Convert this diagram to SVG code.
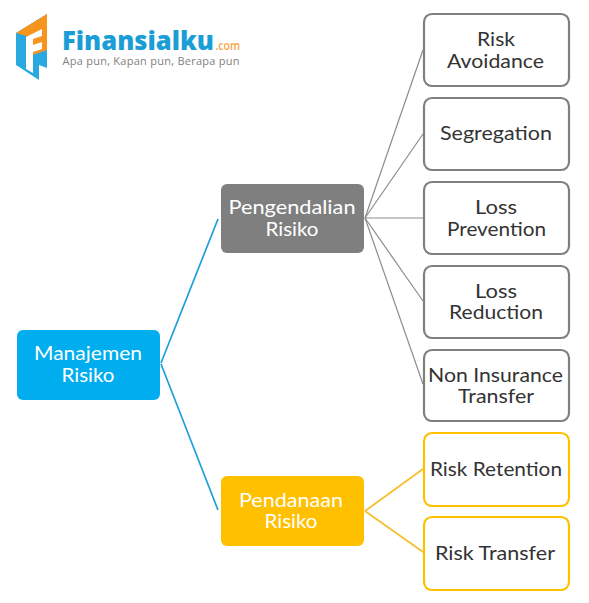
<svg xmlns="http://www.w3.org/2000/svg" width="589" height="603" viewBox="0 0 589 603">
<style>
text{font-family:"Lato","Noto Sans","Liberation Sans",sans-serif;font-size:20px;text-anchor:middle}
.dark{fill:#333}.light{fill:#fff}
.logoT{font-family:"Open Sans","Liberation Sans",sans-serif;text-anchor:start}
.outG{fill:#fff;stroke:#7f7f7f;stroke-width:2.2}
.outY{fill:#fff;stroke:#ffc000;stroke-width:2.2}
.c{fill:none}.cB{stroke:#1f9fd8;stroke-width:1.7}.cG{stroke:#8c8c8c;stroke-width:1.2}.cY{stroke:#f5c02e;stroke-width:1.8}
</style>
<g id="logo">
<polygon points="16,33 47,14 47,68 39,65 39,80 16,65" fill="#29a9e0"/>
<polygon points="16,33 47,14 47,50 33,55 33,36 26,36" fill="#f7941e"/>
<polygon points="26,37 42,29 42,36 33,39 33,45 42,42 42,49 33,52 33,73 26,69" fill="#fff"/>
<text class="logoT" x="62" y="49.500" style="font-size:26px;font-weight:800;fill:#1b9ed6" textLength="152" lengthAdjust="spacingAndGlyphs">Finansialku</text>
<text class="logoT" x="215.500" y="50" style="font-size:12px;font-weight:600;fill:#f7a444" textLength="24.500" lengthAdjust="spacingAndGlyphs">.com</text>
<text class="logoT" x="62.500" y="65" style="font-size:11px;fill:#7f7f7f" textLength="177">Apa pun, Kapan pun, Berapa pun</text>
</g>
<g id="connectors">
<line class="c cB" x1="161" y1="363" x2="218" y2="219"/>
<line class="c cB" x1="161" y1="364" x2="218" y2="510"/>
<line class="c cG" x1="365" y1="218" x2="423" y2="50"/>
<line class="c cG" x1="365" y1="218" x2="423" y2="134"/>
<line class="c cG" x1="365" y1="218" x2="423" y2="218"/>
<line class="c cG" x1="365" y1="218" x2="423" y2="301"/>
<line class="c cG" x1="365" y1="218" x2="423" y2="384"/>
<line class="c cY" x1="365" y1="511" x2="423" y2="469"/>
<line class="c cY" x1="365" y1="511" x2="423" y2="552"/>
</g>
<g id="manajemen"><rect x="17" y="330" width="143" height="70" rx="6" fill="#00aeef"/><text class="light" x="88" y="360" textLength="108" lengthAdjust="spacingAndGlyphs">Manajemen</text><text class="light" x="88" y="382" textLength="53" lengthAdjust="spacingAndGlyphs">Risiko</text></g>
<g id="pengendalian"><rect x="221" y="184" width="143" height="69" rx="6" fill="#7f7f7f"/><text class="light" x="292" y="214" textLength="127" lengthAdjust="spacingAndGlyphs">Pengendalian</text><text class="light" x="292" y="236" textLength="53" lengthAdjust="spacingAndGlyphs">Risiko</text></g>
<g id="pendanaan"><rect x="221" y="476" width="143" height="70" rx="6" fill="#ffc000"/><text class="light" x="291" y="507" textLength="104" lengthAdjust="spacingAndGlyphs">Pendanaan</text><text class="light" x="291" y="528" textLength="53" lengthAdjust="spacingAndGlyphs">Risiko</text></g>
<g id="risk-avoidance"><rect class="outG" x="424" y="14" width="145" height="72" rx="8"/><text class="dark" x="496" y="46" textLength="38" lengthAdjust="spacingAndGlyphs">Risk</text><text class="dark" x="495.500" y="67.500" textLength="97" lengthAdjust="spacingAndGlyphs">Avoidance</text></g>
<g id="segregation"><rect class="outG" x="424" y="98" width="145" height="72" rx="8"/><text class="dark" x="496" y="140" textLength="112" lengthAdjust="spacingAndGlyphs">Segregation</text></g>
<g id="loss-prevention"><rect class="outG" x="424" y="182" width="145" height="72" rx="8"/><text class="dark" x="496" y="214" textLength="42" lengthAdjust="spacingAndGlyphs">Loss</text><text class="dark" x="496.500" y="235.500" textLength="99" lengthAdjust="spacingAndGlyphs">Prevention</text></g>
<g id="loss-reduction"><rect class="outG" x="424" y="266" width="145" height="72" rx="8"/><text class="dark" x="496" y="297.500" textLength="42" lengthAdjust="spacingAndGlyphs">Loss</text><text class="dark" x="496" y="319" textLength="94" lengthAdjust="spacingAndGlyphs">Reduction</text></g>
<g id="non-insurance"><rect class="outG" x="424" y="350" width="145" height="71" rx="8"/><text class="dark" x="495.500" y="381.500" textLength="135" lengthAdjust="spacingAndGlyphs">Non Insurance</text><text class="dark" x="496" y="403" textLength="76" lengthAdjust="spacingAndGlyphs">Transfer</text></g>
<g id="risk-retention"><rect class="outY" x="424" y="433" width="145" height="73" rx="8"/><text class="dark" x="496" y="475.500" textLength="132" lengthAdjust="spacingAndGlyphs">Risk Retention</text></g>
<g id="risk-transfer"><rect class="outY" x="424" y="517" width="145" height="73" rx="8"/><text class="dark" x="495" y="559.500" textLength="120" lengthAdjust="spacingAndGlyphs">Risk Transfer</text></g>
</svg>
